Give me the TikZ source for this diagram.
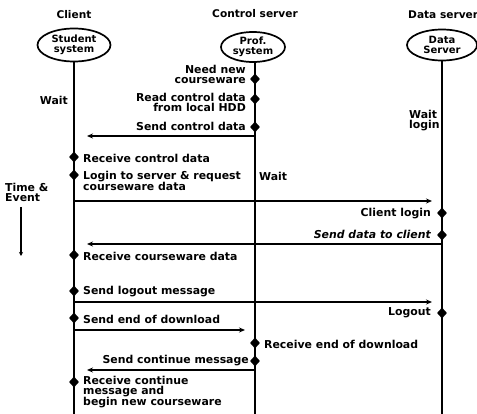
\documentclass[tikz,border=0pt]{standalone}
\usepackage{fontspec}
\setmainfont{DejaVu Sans}
\usetikzlibrary{shapes.geometric,arrows.meta}
\begin{document}
\begin{tikzpicture}[x=1pt,y=-1pt,
  lbl/.style={inner sep=0pt,font=\bfseries\fontsize{10.9}{10}\selectfont,align=left},
  lblr/.style={lbl,align=right},
  hdr/.style={inner sep=0pt,font=\bfseries\fontsize{10.6}{10}\selectfont},
  actor/.style={ellipse,draw,line width=1.7pt,inner sep=0pt,align=center,
    font=\bfseries\fontsize{10}{9.5}\selectfont},
  life/.style={line width=2.3pt},
  ev/.style={diamond,fill=black,inner sep=0pt,minimum width=10pt,minimum height=11pt},
  msg/.style={line width=1.4pt,-{Stealth[length=6pt,width=5pt]}},
]
\useasboundingbox (0,0) rectangle (477,414);

% column headers
\node[hdr] (hcli) at (74,15) {Client};
\node[hdr] (hctl) at (255,14) {Control server};
\node[hdr,anchor=west] (hdat) at (408,15) {Data server};

% actors
\node[actor,minimum width=73pt,minimum height=33pt] (cli) at (74,45) {Student\\system};
\node[actor,minimum width=64pt,minimum height=30pt] (ctl) at (253,47) {Prof.\\system};
\node[actor,minimum width=70pt,minimum height=31pt] (dat) at (442,45) {Data\\Server};

% lifelines
\coordinate (cliend) at (74,414);
\coordinate (ctlend) at (255,414);
\coordinate (datend) at (442,414);
\draw[life] (cli.south) -- (cliend);
\draw[life] (ctl.south -| ctlend) -- (ctlend);
\draw[life] (dat.south) -- (datend);

% waiting states
\node[lblr,anchor=east] (wcli) at (68,100) {Wait};
\node[lbl,anchor=west] (wctl) at (259,176) {Wait};
\node[lbl,anchor=west] (wdat) at (409,121) {Wait\\login};

% time axis
\node[lbl,anchor=west] (tev) at (5,192) {Time \&\\Event};
\coordinate (ta) at (21,207);
\coordinate (tb) at (21,256);
\draw[line width=1.7pt,-{Stealth[length=4pt,width=4pt]}] (ta) -- (tb);

% control server events
\node[ev] (c1) at (255,79) {};
\node[lblr,anchor=east] (c1t) at (246,74) {Need new\\courseware};
\node[ev] (c2) at (255,99) {};
\node[lblr,anchor=east] (c2t) at (246,102) {Read control data\\from local HDD};
\node[ev] (c3) at (255,127) {};
\node[lblr,anchor=east] (c3t) at (246,126) {Send control data};

% control data to client
\coordinate (m1s) at (255,136);
\coordinate (m1e) at (74,136);
\draw[msg,shorten >=13pt] (m1s) -- (m1e);

% client events
\node[ev] (k1) at (74,157) {};
\node[lbl,anchor=west] (k1t) at (83,158) {Receive control data};
\node[ev] (k2) at (74,175) {};
\node[lbl,anchor=west] (k2t) at (83,181) {Login to server \& request\\courseware data};

% login request to data server
\coordinate (m2s) at (74,201);
\coordinate (m2e) at (442,201);
\draw[msg,shorten >=10pt] (m2s) -- (m2e);

% data server events
\node[ev] (d1) at (442,213) {};
\node[lblr,anchor=east] (d1t) at (431,214) {Client login};
\node[ev] (d2) at (442,235) {};
\node[lblr,anchor=east] (d2t) at (431,234) {\itshape Send data to client};

% courseware data to client
\coordinate (m3s) at (442,244);
\coordinate (m3e) at (74,244);
\draw[msg,shorten >=13pt] (m3s) -- (m3e);

\node[ev] (k3) at (74,255) {};
\node[lbl,anchor=west] (k3t) at (83,256) {Receive courseware data};

\node[ev] (k4) at (74,291) {};
\node[lbl,anchor=west] (k4t) at (83,292) {Send logout message};

% logout to data server
\coordinate (m4s) at (74,302);
\coordinate (m4e) at (442,302);
\draw[msg,shorten >=10pt] (m4s) -- (m4e);

\node[ev] (d3) at (442,313) {};
\node[lblr,anchor=east] (d3t) at (431,313) {Logout};

\node[ev] (k5) at (74,318) {};
\node[lbl,anchor=west] (k5t) at (83,319) {Send end of download};

% end of download to control server
\coordinate (m5s) at (74,330);
\coordinate (m5e) at (255,330);
\draw[msg,shorten >=10pt] (m5s) -- (m5e);

\node[ev] (c4) at (255,343) {};
\node[lbl,anchor=west] (c4t) at (264,344) {Receive end of download};
\node[ev] (c5) at (255,361) {};
\node[lblr,anchor=east] (c5t) at (249,361) {Send continue message};

% continue message to client
\coordinate (m6s) at (255,370);
\coordinate (m6e) at (74,370);
\draw[msg,shorten >=13pt] (m6s) -- (m6e);

\node[ev] (k6) at (74,382) {};
\node[lbl,anchor=west] (k6t) at (83,392) {Receive continue\\message and\\begin new courseware};
\end{tikzpicture}
\end{document}
